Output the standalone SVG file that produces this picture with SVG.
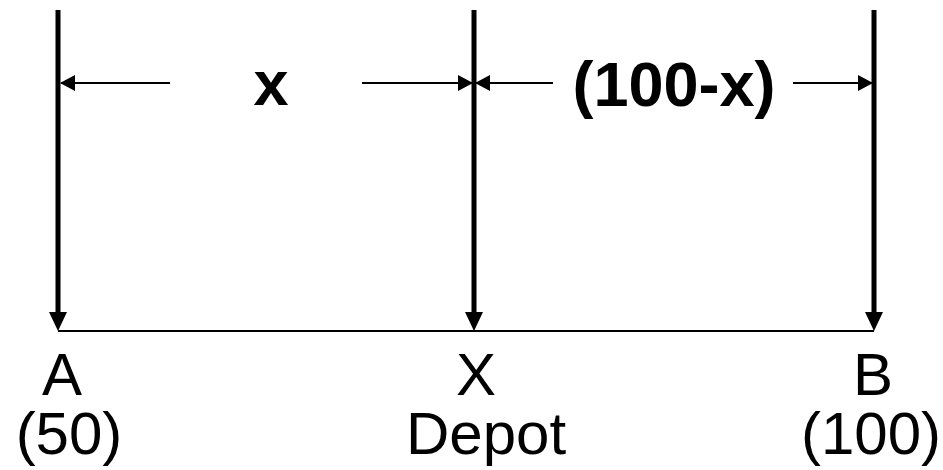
<svg xmlns="http://www.w3.org/2000/svg" width="943" height="470" viewBox="0 0 943 470">
<style>
  text { font-family: "Liberation Sans", Arial, sans-serif; font-size: 60px; fill: #000; text-anchor: middle; }
  .b { font-weight: bold; font-size: 63px; }
  .post { stroke: #000; stroke-width: 5; fill: none; }
  .dim { stroke: #000; stroke-width: 2; fill: none; }
  .base { stroke: #000; stroke-width: 2; fill: none; }
</style>
<defs>
  <marker id="vhead" markerUnits="userSpaceOnUse" markerWidth="19" markerHeight="18" refX="6" refY="9" orient="auto" viewBox="0 0 19 18">
    <path d="M0,0 L19,9 L0,18 z" fill="#000"/>
  </marker>
  <marker id="dhead" markerUnits="userSpaceOnUse" markerWidth="15" markerHeight="16" refX="14" refY="8" orient="auto-start-reverse" viewBox="0 0 15 16">
    <path d="M0,0 L15,8 L0,16 z" fill="#000"/>
  </marker>
</defs>
<rect width="943" height="470" fill="#fff"/>
<g id="connectors">
  <line class="base" x1="58" y1="331" x2="874" y2="331"/>
  <line class="post" x1="58" y1="10" x2="58" y2="318" marker-end="url(#vhead)"/>
  <line class="post" x1="474" y1="10" x2="474" y2="318" marker-end="url(#vhead)"/>
  <line class="post" x1="874" y1="10" x2="874" y2="318" marker-end="url(#vhead)"/>
  <line class="dim" x1="61" y1="83" x2="170" y2="83" marker-start="url(#dhead)"/>
  <line class="dim" x1="362" y1="83" x2="472" y2="83" marker-end="url(#dhead)"/>
  <line class="dim" x1="476" y1="83" x2="553" y2="83" marker-start="url(#dhead)"/>
  <line class="dim" x1="793" y1="83" x2="872" y2="83" marker-end="url(#dhead)"/>
</g>
<g id="label-x"><text class="b" x="271" y="105">x</text></g>
<g id="label-100-x"><text class="b" x="674" y="106">(100-x)</text></g>
<g id="node-A">
  <text x="62" y="395">A</text>
  <text x="69" y="454">(50)</text>
</g>
<g id="node-X">
  <text x="476" y="395">X</text>
  <text x="486" y="454">Depot</text>
</g>
<g id="node-B">
  <text x="873" y="395">B</text>
  <text x="871" y="454">(100)</text>
</g>
</svg>
